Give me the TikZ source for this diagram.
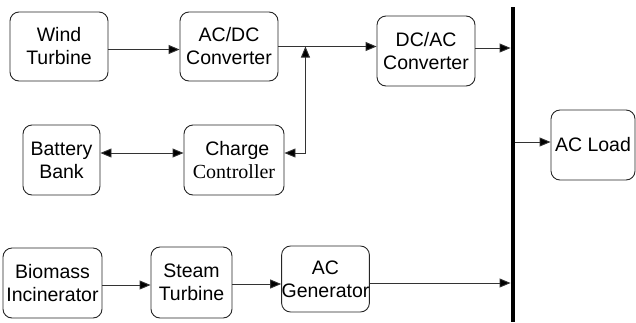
\documentclass[tikz,border=0pt]{standalone}
\usepackage{fontspec}
\setmainfont{Liberation Sans}
\newfontfamily\ctlfont{Liberation Serif}
\usetikzlibrary{arrows.meta, positioning}

\begin{document}
\begin{tikzpicture}[
    x=1pt, y=-1pt,
    >={Triangle[length=11pt, width=9pt, fill=black]},
    % Component boxes
    block/.style={
        rectangle, rounded corners=9pt, draw=black!85, line width=0.9pt,
        inner sep=0pt, align=center,
        font=\fontsize{19.5}{23}\selectfont
    },
    % Power flow arrow
    link/.style={->, line width=0.9pt, black!80},
    % AC bus bar
    busbar/.style={
        rectangle, fill=black, draw=none, inner sep=0pt,
        minimum width=4.5pt, minimum height=315pt
    },
]

\useasboundingbox (0,0) rectangle (636,322);

% Row 1: wind path
\node[block, minimum width=98pt, minimum height=69pt] (wind) at (59, 46.5) {Wind\\Turbine};
\node[block, minimum width=98pt, minimum height=69pt] (acdc) at (229, 46.5) {AC/DC\\Converter};
\node[block, minimum width=98pt, minimum height=70pt] (dcac) at (426, 51) {DC/AC\\Converter};

% Row 2: storage
\node[block, minimum width=77pt, minimum height=70pt] (battery) at (61.5, 160) {Battery\\Bank};
\node[block, minimum width=100pt, minimum height=70pt] (charge) at (234, 160)
    {\,\,Charge\\{\ctlfont\fontsize{20}{23}\selectfont Controller}};

% Row 3: biomass path
\node[block, minimum width=99pt, minimum height=70pt] (biomass) at (52.5, 283) {Biomass\\Incinerator};
\node[block, minimum width=81pt, minimum height=71pt] (steam) at (191.5, 282.5) {Steam\\Turbine};
\node[block, minimum width=85pt, minimum height=66pt] (acgen) at (325.5, 279) {AC\\Generator};

% AC bus and load
\node[busbar] (bus) at (513, 164.5) {};
\node[block, minimum width=84pt, minimum height=70pt] (acload) at (593, 145) {AC Load};

% Tap point on the DC link
\path (acdc.east) ++(27,0) coordinate (tap);

% Wind path arrows
\draw[link] ([yshift=-3pt]wind.east) -- ([yshift=-3pt]wind.east -| acdc.west);
\draw[link] (acdc.east) -- (acdc.east -| dcac.west);
\draw[link] ([yshift=3pt]dcac.east) -- ([yshift=3pt]dcac.east -| bus.west);

% Storage arrows
\draw[link, <->] ([yshift=7pt]battery.east) -- ([yshift=7pt]battery.east -| charge.west);
\draw[link, <->] ([yshift=7pt]charge.east) -| (tap);

% Biomass path arrows
\draw[link] ([yshift=-2pt]biomass.east) -- ([yshift=-2pt]biomass.east -| steam.west);
\draw[link] ([yshift=-1.5pt]steam.east) -- ([yshift=-1.5pt]steam.east -| acgen.west);
\draw[link] ([yshift=-4pt]acgen.east) -- ([yshift=-4pt]acgen.east -| bus.west);

% Bus to load
\draw[link] ([yshift=3pt]acload.west -| bus.east) -- ([yshift=3pt]acload.west);

\end{tikzpicture}
\end{document}
